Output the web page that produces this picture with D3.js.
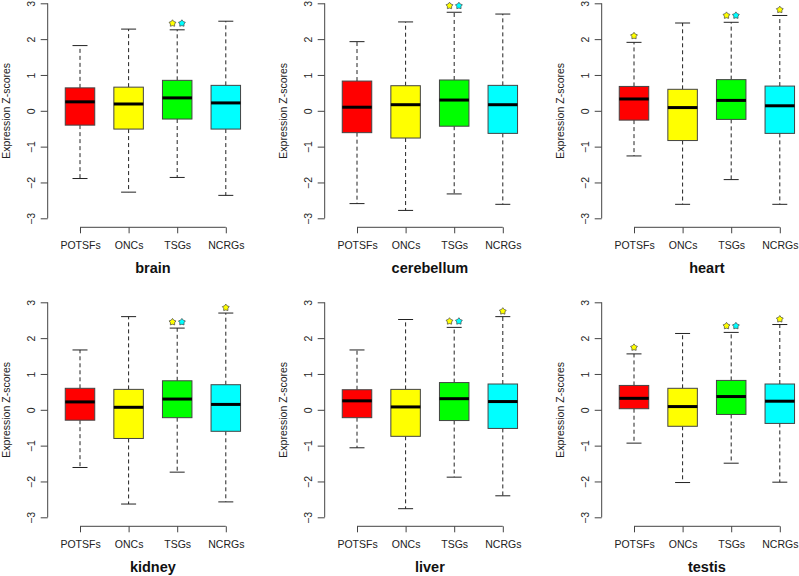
<!DOCTYPE html>
<html><head><meta charset="utf-8">
<script src="https://cdn.jsdelivr.net/npm/d3@7"></script>
<style>body{margin:0;background:#fff}svg{display:block}text{font-family:"Liberation Sans",Arial,Helvetica,sans-serif}</style>
</head><body><svg id="c" width="799" height="576"></svg>
<script>
const tissues = ["brain","cerebellum","heart","kidney","liver","testis"];
const categories = ["POTSFs","ONCs","TSGs","NCRGs"];
const colors = ["#ff0000","#ffff00","#00ff00","#00ffff"];
const yTicks = [-3,-2,-1,0,1,2,3];
// per tissue, per category
const whiskerHigh = [[1.82,2.28,2.26,2.50],[1.93,2.48,2.75,2.70],[1.91,2.45,2.47,2.66],[1.67,2.60,2.28,2.70],[1.67,2.52,2.30,2.60],[1.56,2.13,2.16,2.38]];
const q3 =          [[0.64,0.66,0.85,0.71],[0.83,0.70,0.86,0.71],[0.68,0.60,0.87,0.69],[0.60,0.57,0.81,0.70],[0.56,0.57,0.76,0.72],[0.68,0.60,0.82,0.72]];
const median =      [[0.25,0.19,0.36,0.22],[0.10,0.17,0.30,0.17],[0.33,0.09,0.29,0.14],[0.22,0.07,0.30,0.15],[0.25,0.08,0.31,0.23],[0.32,0.09,0.37,0.24]];
const q1 =          [[-0.40,-0.51,-0.23,-0.51],[-0.61,-0.76,-0.43,-0.63],[-0.26,-0.83,-0.24,-0.63],[-0.29,-0.80,-0.22,-0.60],[-0.22,-0.74,-0.30,-0.52],[0.03,-0.46,-0.13,-0.38]];
const whiskerLow =  [[-1.89,-2.27,-1.86,-2.36],[-2.59,-2.78,-2.32,-2.61],[-1.26,-2.61,-1.92,-2.61],[-1.61,-2.63,-1.74,-2.57],[-1.06,-2.76,-1.88,-2.40],[-0.93,-2.03,-1.49,-2.02]];
// significance stars: tissue index, category index, star colours, y value
const starTissue = [0,1,2,2,2,3,3,4,4,5,5,5];
const starCategory = [2,2,0,2,3,2,3,2,3,0,2,3];
const starColors = [["#ffff00","#00ffff"],["#ffff00","#00ffff"],["#ffff00"],["#ffff00","#00ffff"],["#ffff00"],["#ffff00","#00ffff"],["#ffff00"],["#ffff00","#00ffff"],["#ffff00"],["#ffff00"],["#ffff00","#00ffff"],["#ffff00"]];
const starY = [2.44,2.93,2.09,2.66,2.82,2.45,2.85,2.47,2.75,1.74,2.34,2.53];

const svg = d3.select("#c");
const axisCol = "#444", textCol = "#222";
const colW = 277, rowH = 299;

function fatStar(R) {
  const pts = [];
  for (let i = 0; i < 10; i++) {
    const a = -Math.PI / 2 + i * Math.PI / 5;
    const rr = i % 2 === 0 ? R : R * 0.62;
    pts.push([rr * Math.cos(a), rr * Math.sin(a)]);
  }
  return "M" + pts.map(p => p[0].toFixed(2) + "," + p[1].toFixed(2)).join("L") + "Z";
}

tissues.forEach((t, ti) => {
  const c = ti % 3, r = Math.floor(ti / 3);
  const ax = 47.7 + colW * c;
  const g = svg.append("g");
  const y = d3.scaleLinear().domain([-3, 3]).range([218.3 + rowH * r, 3.3 + rowH * r]);
  const x = d3.scalePoint().domain(categories).range([ax + 32.3, ax + 32.3 + 48.6 * 3]);
  const bw = 29.5, cw = 15;
  const yBottom = 227.3 + rowH * r;

  const ya = g.append("g").attr("transform", `translate(${ax},0)`)
    .call(d3.axisLeft(y).tickValues(yTicks).tickSize(7).tickFormat(d3.format("d")));
  ya.select(".domain").attr("stroke", axisCol).attr("d", `M0,${y(-3)}V${y(3)}`);
  ya.selectAll(".tick line").attr("stroke", axisCol);
  ya.selectAll(".tick text").attr("fill", textCol).attr("font-size", 10.5)
    .attr("text-anchor", "middle")
    .attr("transform", "translate(-16,0) rotate(-90)").attr("x", 0).attr("y", 0).attr("dy", "0.35em");
  ya.attr("font-family", null);

  const xa = g.append("g").attr("transform", `translate(0,${yBottom})`)
    .call(d3.axisBottom(x).tickSize(6).tickPadding(8));
  xa.select(".domain").attr("stroke", axisCol).attr("d", `M${x(categories[0])},0H${x(categories[3])}`);
  xa.selectAll(".tick line").attr("stroke", axisCol);
  xa.selectAll(".tick text").attr("fill", textCol).attr("font-size", 10.5);
  xa.attr("font-family", null);

  g.append("text").attr("transform", `translate(${ax - 37.5},${y(0)}) rotate(-90)`)
    .attr("text-anchor", "middle").attr("font-size", 10.5).attr("fill", textCol)
    .text("Expression Z-scores");
  g.append("text").attr("x", (x(categories[0]) + x(categories[3])) / 2).attr("y", 273 + rowH * r)
    .attr("text-anchor", "middle").attr("font-size", 14.5).attr("font-weight", "bold").attr("fill", "#111")
    .text(t);

  categories.forEach((cat, ci) => {
    const cx = x(cat);
    g.append("line").attr("x1", cx).attr("x2", cx).attr("y1", y(q3[ti][ci])).attr("y2", y(whiskerHigh[ti][ci]))
      .attr("stroke", "#222").attr("stroke-dasharray", "4,3");
    g.append("line").attr("x1", cx).attr("x2", cx).attr("y1", y(q1[ti][ci])).attr("y2", y(whiskerLow[ti][ci]))
      .attr("stroke", "#222").attr("stroke-dasharray", "4,3");
    [whiskerHigh[ti][ci], whiskerLow[ti][ci]].forEach(v => {
      g.append("line").attr("x1", cx - cw / 2).attr("x2", cx + cw / 2).attr("y1", y(v)).attr("y2", y(v))
        .attr("stroke", "#222");
    });
    g.append("rect").attr("x", cx - bw / 2).attr("width", bw)
      .attr("y", y(q3[ti][ci])).attr("height", y(q1[ti][ci]) - y(q3[ti][ci]))
      .attr("fill", colors[ci]).attr("stroke", "#444").attr("stroke-width", 1);
    g.append("line").attr("x1", cx - bw / 2).attr("x2", cx + bw / 2)
      .attr("y1", y(median[ti][ci])).attr("y2", y(median[ti][ci]))
      .attr("stroke", "#000").attr("stroke-width", 3);
  });

  starTissue.forEach((st, si) => {
    if (st !== ti) return;
    const cx = x(categories[starCategory[si]]);
    const cols = starColors[si];
    cols.forEach((col, k) => {
      const off = cols.length === 1 ? 0 : (k === 0 ? -4.7 : 4.7);
      g.append("path").attr("d", fatStar(3.6))
        .attr("transform", `translate(${cx + off},${y(starY[si])})`)
        .attr("fill", col).attr("stroke", "#444").attr("stroke-width", 0.7).attr("stroke-linejoin", "round");
    });
  });
});
</script></body></html>
